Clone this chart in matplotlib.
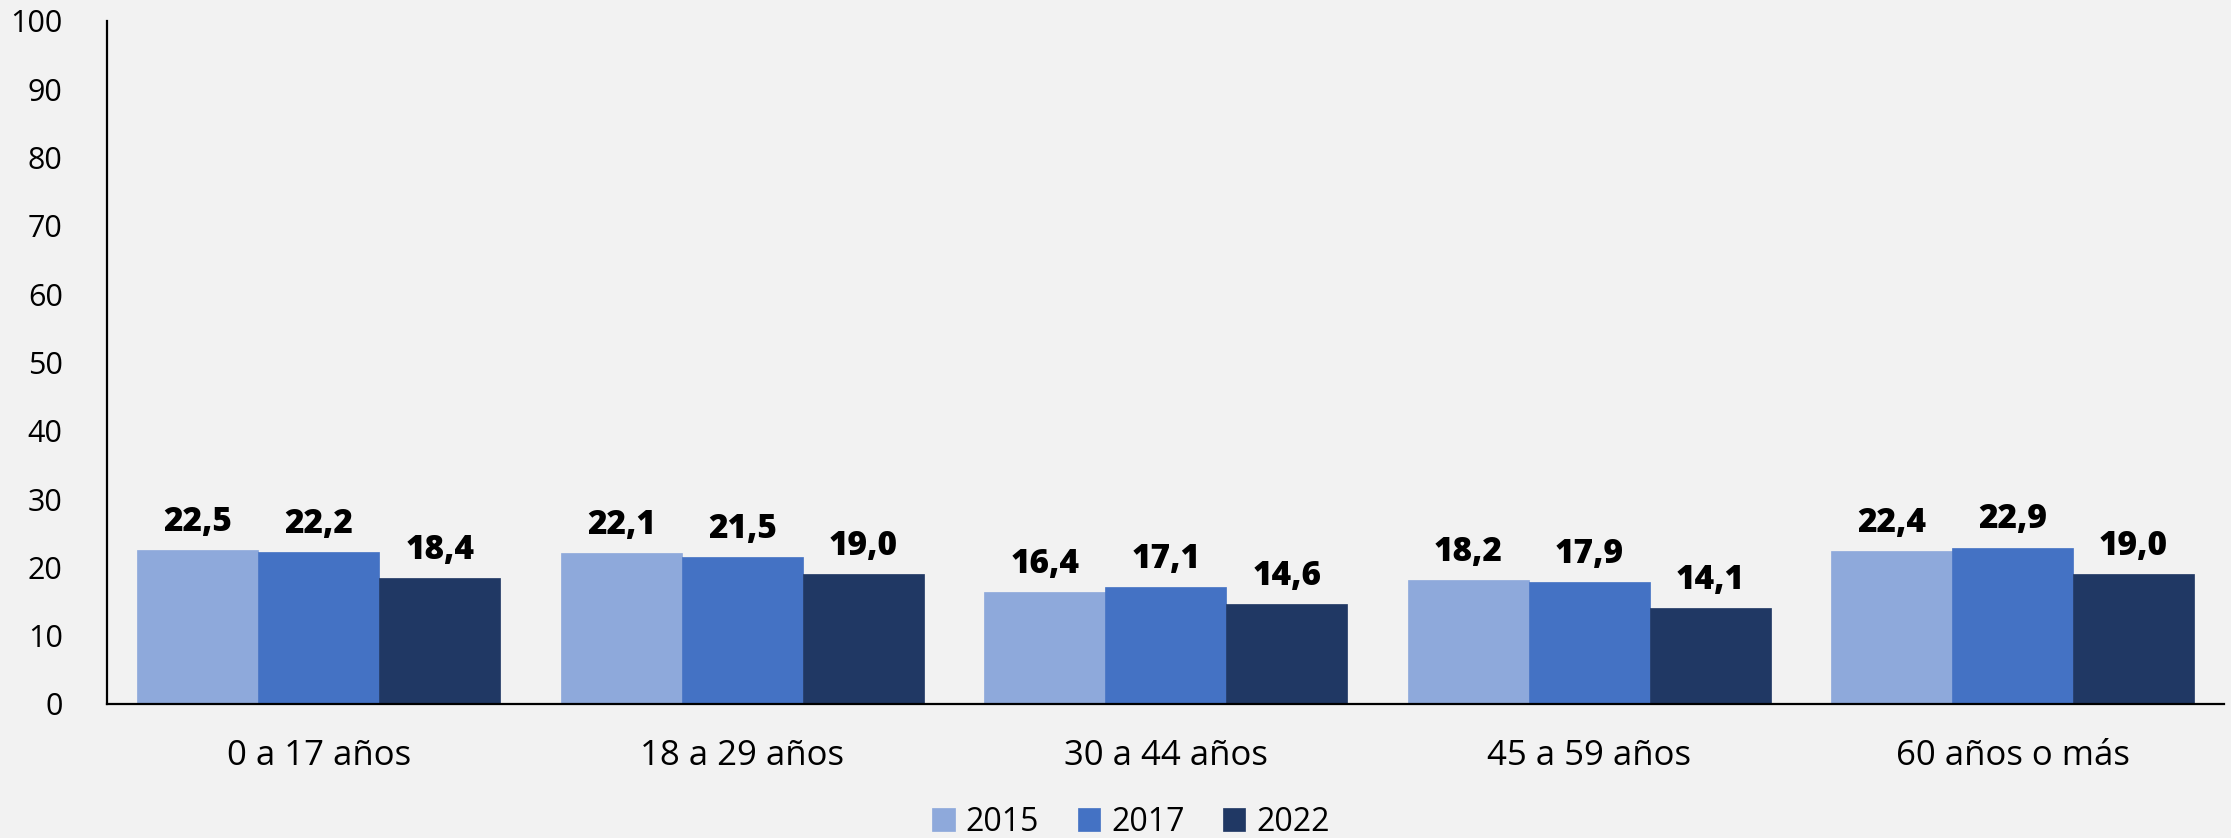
import matplotlib.pyplot as plt
import numpy as np

# Porcentaje por grupo de edad, tres años
categories = ['0 a 17 años', '18 a 29 años', '30 a 44 años', '45 a 59 años', '60 años o más']
years = ['2015', '2017', '2022']
values_2015 = [22.5, 22.1, 16.4, 18.2, 22.4]
values_2017 = [22.2, 21.5, 17.1, 17.9, 22.9]
values_2022 = [18.4, 19.0, 14.6, 14.1, 19.0]

colors = ['#8EA9DB', '#4472C4', '#203864']
bg = '#F2F2F2'

plt.rcParams['font.family'] = ['Open Sans', 'DejaVu Sans']

fig = plt.figure(figsize=(22.31, 8.38), dpi=100, facecolor=bg)
ax = fig.add_axes([0.048, 0.16, 0.949, 0.815])
ax.set_facecolor(bg)

x = np.arange(len(categories))
width = 1 / 3.5
series = [values_2015, values_2017, values_2022]

for i, (vals, year, col) in enumerate(zip(series, years, colors)):
    bars = ax.bar(x + (i - 1) * width, vals, width, color=col, label=year,
                  edgecolor=col, linewidth=0.5)
    for b, v in zip(bars, vals):
        ax.annotate(f'{v:.1f}'.replace('.', ','),
                    (b.get_x() + b.get_width() / 2, v),
                    xytext=(0, 8), textcoords='offset points',
                    ha='center', va='bottom', fontsize=24, fontweight='heavy')

ax.set_xlim(-0.5, len(categories) - 0.5)
ax.set_ylim(0, 100)
ax.set_yticks(np.arange(0, 101, 10))
ax.set_xticks(x)
ax.set_xticklabels(categories)
ax.tick_params(axis='y', length=0, labelsize=22, pad=32)
ax.tick_params(axis='x', length=0, labelsize=25, pad=25)

ax.spines[['top', 'right']].set_visible(False)
for s in ['left', 'bottom']:
    ax.spines[s].set_linewidth(1.6)
    ax.spines[s].set_color('black')

fig.legend(loc='lower center', bbox_to_anchor=(0.507, -0.035), ncol=3,
           frameon=False, fontsize=23, handlelength=0.7, handleheight=0.7,
           handletextpad=0.35, columnspacing=1.2)

plt.savefig('out.png', dpi=100, facecolor=bg)
plt.close(fig)
